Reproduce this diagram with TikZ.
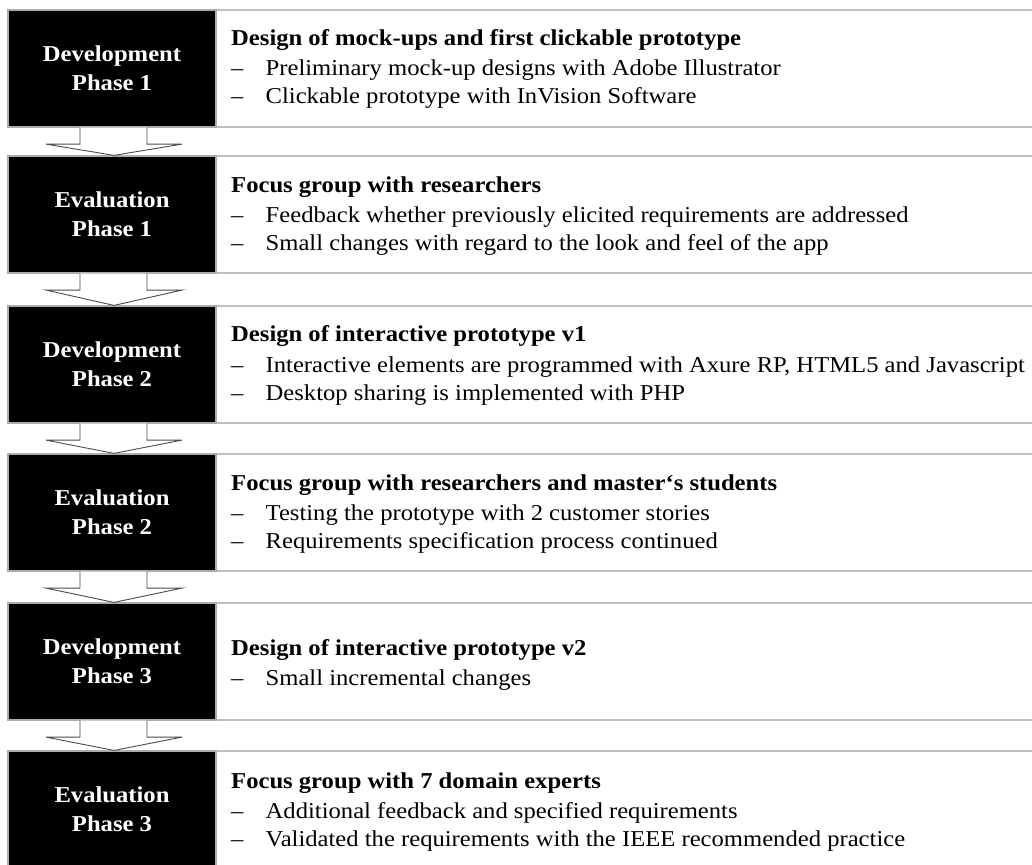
\documentclass[tikz,border=0pt]{standalone}
\usepackage{fontspec}
\setmainfont{Liberation Serif}[FakeStretch=1.085]
\usetikzlibrary{calc}
\tikzset{
 phase/.style={fill=black, draw=gray!65, line width=1.2pt, minimum width=208pt, minimum height=117pt, inner sep=0pt, text=white, font=\fontsize{22.7}{29}\selectfont\bfseries, align=center},
 panel/.style={draw=gray!50, line width=1.3pt, minimum width=830pt, minimum height=117pt, anchor=west, inner sep=0pt},
 ttl/.style={anchor=base west, font=\fontsize{22.7}{28}\selectfont\bfseries, inner sep=0pt},
 itm/.style={anchor=base west, font=\fontsize{22.7}{28}\selectfont, inner sep=0pt},
 blockarrow/.style={fill=white, draw=gray!60!black, line width=0.9pt, line join=miter}
}
\newcommand{\itmdash}{\makebox[34.5pt][l]{--}}
\begin{document}
\begin{tikzpicture}[x=1pt,y=-1pt]
\useasboundingbox (0,0) rectangle (1032,864);
\clip (0,0) rectangle (1032,864);
\fill[white] (0,0) rectangle (1032,864);
% panels
\node[panel] (q1) at (216,68.5) {};
\node[panel] (q2) at (216,214.5) {};
\node[panel] (q3) at (216,364.5) {};
\node[panel] (q4) at (216,512.5) {};
\node[panel] (q5) at (216,661.5) {};
\node[panel] (q6) at (216,809.5) {};
% phase boxes
\node[phase] (p1) at (112,68.5) {Development\\Phase 1};
\node[phase] (p2) at (112,214.5) {Evaluation\\Phase 1};
\node[phase] (p3) at (112,364.5) {Development\\Phase 2};
\node[phase] (p4) at (112,512.5) {Evaluation\\Phase 2};
\node[phase] (p5) at (112,661.5) {Development\\Phase 3};
\node[phase] (p6) at (112,809.5) {Evaluation\\Phase 3};
% block arrows
\foreach \a/\b in {p1/p2,p2/p3,p3/p4,p4/p5,p5/p6}{
  \draw[blockarrow] ($(\a.south)+(-32,0)$) -- ($(\a.south)+(-32,16.5)$) -- ($(\a.south)+(-66,16.5)$)
     -- ($(\b.north)+(2,0)$) -- ($(\a.south)+(70,16.5)$) -- ($(\a.south)+(35,16.5)$) -- ($(\a.south)+(35,0)$);
}
% row texts
\node[ttl] (t1) at (231,45.5) {Design of mock-ups and first clickable prototype};
\node[itm] (t1a) at (231,76) {\itmdash Preliminary mock-up designs with Adobe Illustrator};
\node[itm] (t1b) at (231,104) {\itmdash Clickable prototype with InVision Software};
\node[ttl] (t2) at (231,192) {Focus group with researchers};
\node[itm] (t2a) at (231,222.5) {\itmdash Feedback whether previously elicited requirements are addressed};
\node[itm] (t2b) at (231,250.5) {\itmdash Small changes with regard to the look and feel of the app};
\node[ttl] (t3) at (231,341.5) {Design of interactive prototype v1};
\node[itm] (t3a) at (231,372) {\itmdash Interactive elements are programmed with Axure RP, HTML5 and Javascript};
\node[itm] (t3b) at (231,400) {\itmdash Desktop sharing is implemented with PHP};
\node[ttl] (t4) at (231,490) {Focus group with researchers and master‘s students};
\node[itm] (t4a) at (231,520.5) {\itmdash Testing the prototype with 2 customer stories};
\node[itm] (t4b) at (231,548.5) {\itmdash Requirements specification process continued};
\node[ttl] (t5) at (231,655) {Design of interactive prototype v2};
\node[itm] (t5a) at (231,685.5) {\itmdash Small incremental changes};
\node[ttl] (t6) at (231,788) {Focus group with 7 domain experts};
\node[itm] (t6a) at (231,818.5) {\itmdash Additional feedback and specified requirements};
\node[itm] (t6b) at (231,846.5) {\itmdash Validated the requirements with the IEEE recommended practice};
\end{tikzpicture}
\end{document}
